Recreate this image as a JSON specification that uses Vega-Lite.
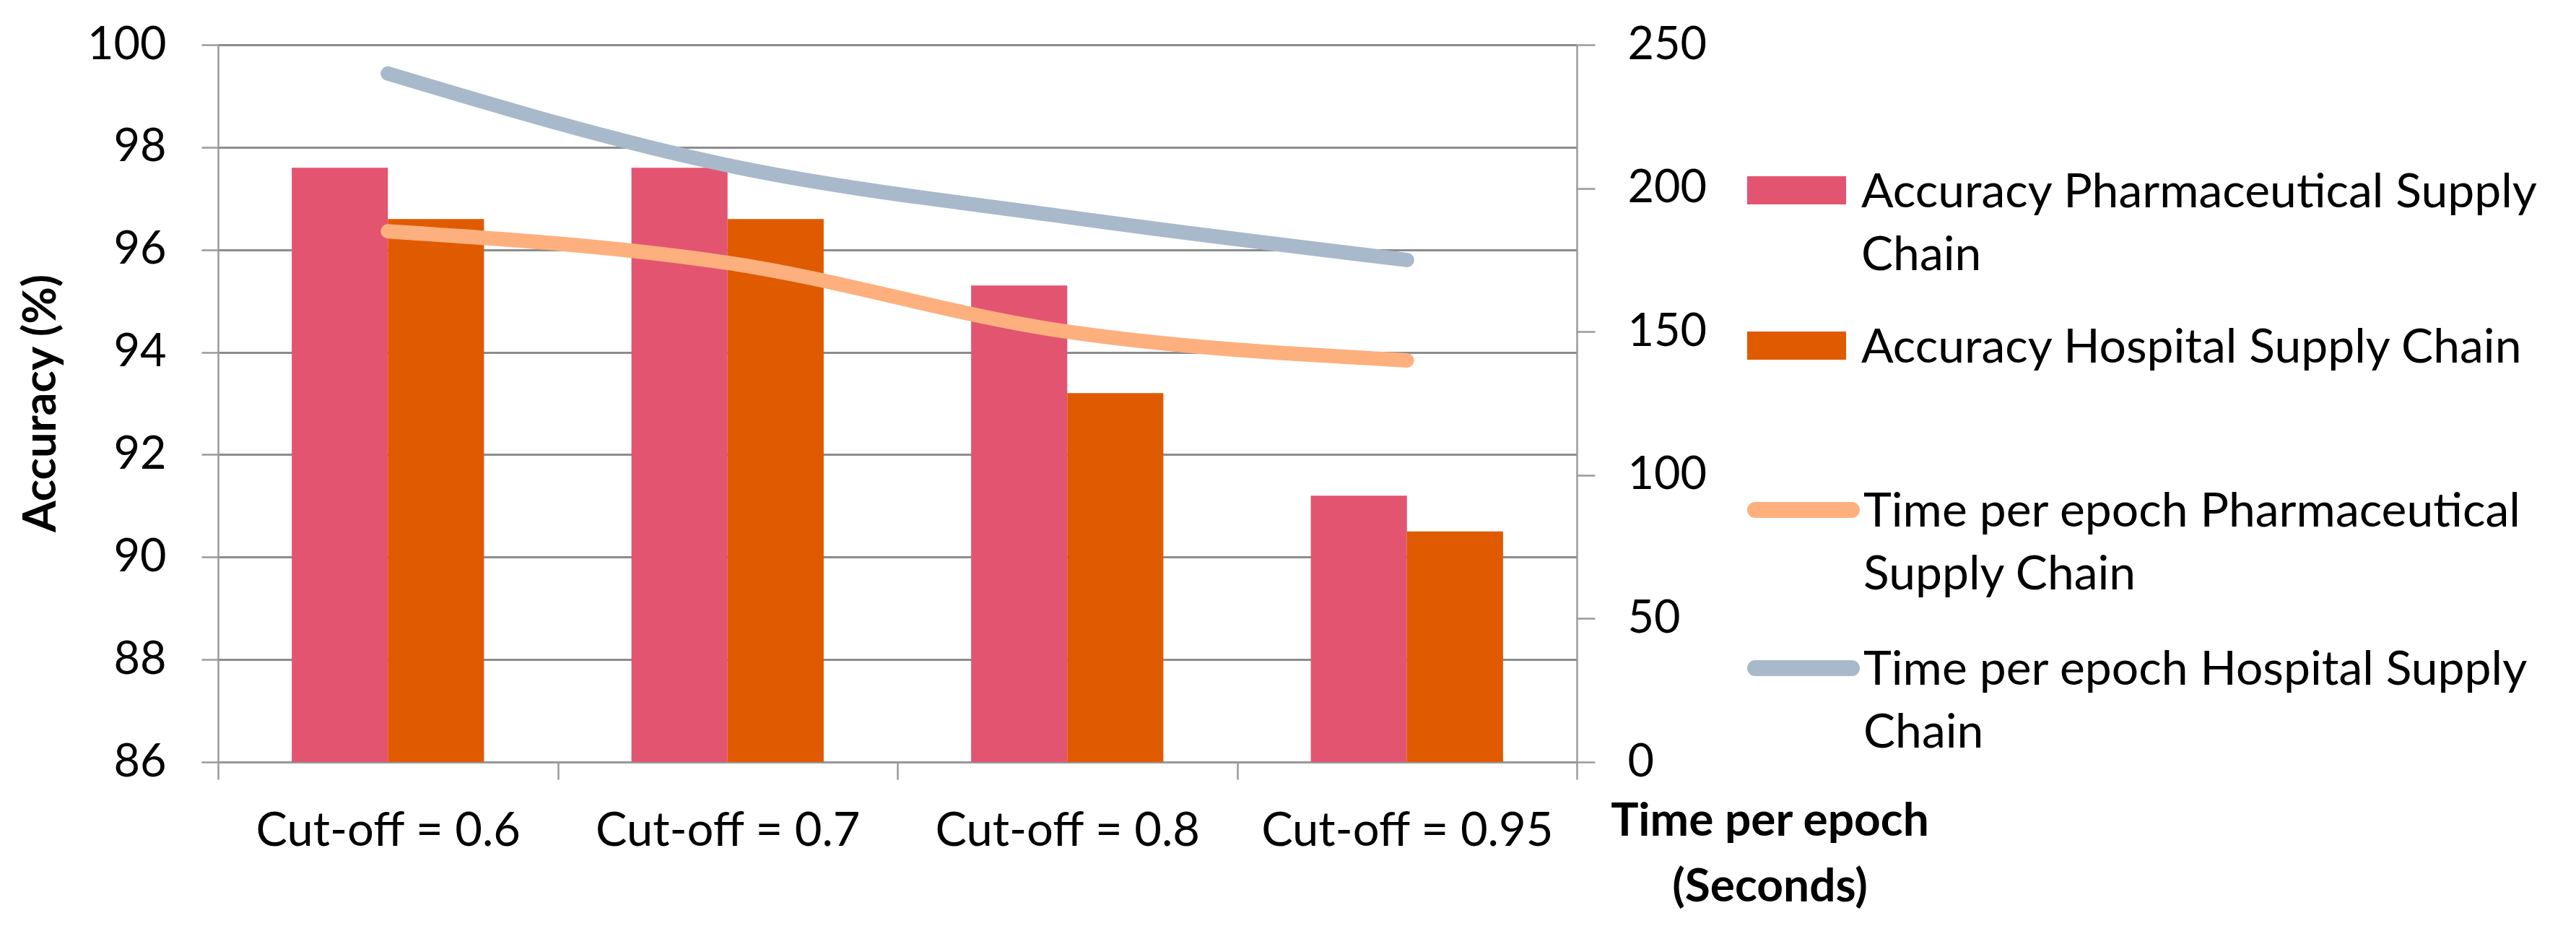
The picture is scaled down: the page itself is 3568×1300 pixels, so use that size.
{
  "$schema": "https://vega.github.io/schema/vega-lite/v6.json",
  "description": "Accuracy bars and time-per-epoch lines by cut-off.",
  "width": 1882,
  "height": 993,
  "autosize": {"type": "none"},
  "padding": {"left": 302, "top": 62, "right": 1384, "bottom": 245},
  "background": "white",
  "config": {
    "font": "Lato",
    "view": {"stroke": null},
    "axis": {"labelColor": "#000000", "titleColor": "#000000", "domainColor": "#9a9a9a", "domainWidth": 2.5, "tickColor": "#9a9a9a", "tickWidth": 2.5},
    "legend": {"padding": 0, "labelColor": "#000000"}
  },
  "datasets": {
    "accuracy": [
      {"cutoff": "Cut-off = 0.6", "series": "Accuracy Pharmaceutical Supply Chain", "accuracy": 97.6},
      {"cutoff": "Cut-off = 0.6", "series": "Accuracy Hospital Supply Chain", "accuracy": 96.6},
      {"cutoff": "Cut-off = 0.7", "series": "Accuracy Pharmaceutical Supply Chain", "accuracy": 97.6},
      {"cutoff": "Cut-off = 0.7", "series": "Accuracy Hospital Supply Chain", "accuracy": 96.6},
      {"cutoff": "Cut-off = 0.8", "series": "Accuracy Pharmaceutical Supply Chain", "accuracy": 95.3},
      {"cutoff": "Cut-off = 0.8", "series": "Accuracy Hospital Supply Chain", "accuracy": 93.2},
      {"cutoff": "Cut-off = 0.95", "series": "Accuracy Pharmaceutical Supply Chain", "accuracy": 91.2},
      {"cutoff": "Cut-off = 0.95", "series": "Accuracy Hospital Supply Chain", "accuracy": 90.5}
    ],
    "timing": [
      {"cutoff": "Cut-off = 0.6", "series": "Time per epoch Pharmaceutical Supply Chain", "seconds": 185},
      {"cutoff": "Cut-off = 0.7", "series": "Time per epoch Pharmaceutical Supply Chain", "seconds": 174},
      {"cutoff": "Cut-off = 0.8", "series": "Time per epoch Pharmaceutical Supply Chain", "seconds": 150},
      {"cutoff": "Cut-off = 0.95", "series": "Time per epoch Pharmaceutical Supply Chain", "seconds": 140},
      {"cutoff": "Cut-off = 0.6", "series": "Time per epoch Hospital Supply Chain", "seconds": 240},
      {"cutoff": "Cut-off = 0.7", "series": "Time per epoch Hospital Supply Chain", "seconds": 208},
      {"cutoff": "Cut-off = 0.8", "series": "Time per epoch Hospital Supply Chain", "seconds": 190},
      {"cutoff": "Cut-off = 0.95", "series": "Time per epoch Hospital Supply Chain", "seconds": 175}
    ]
  },
  "encoding": {
    "x": {
      "field": "cutoff",
      "type": "nominal",
      "scale": {"domain": ["Cut-off = 0.6", "Cut-off = 0.7", "Cut-off = 0.8", "Cut-off = 0.95"], "paddingInner": 0, "paddingOuter": 0},
      "axis": {"title": null, "labelAngle": 0, "tickBand": "extent", "tickSize": 24, "labelPadding": 40, "labelFontSize": 65, "labelBaseline": "top", "labelLimit": 0, "grid": false}
    }
  },
  "layer": [
    {
      "data": {"name": "accuracy"},
      "mark": {"type": "bar"},
      "encoding": {
        "xOffset": {
          "field": "series",
          "type": "nominal",
          "scale": {"domain": ["Accuracy Pharmaceutical Supply Chain", "Accuracy Hospital Supply Chain"], "paddingInner": 0, "paddingOuter": 0.767}
        },
        "y": {
          "field": "accuracy",
          "type": "quantitative",
          "scale": {"domain": [86, 100], "zero": false, "nice": false},
          "axis": {
            "orient": "left",
            "values": [86, 88, 90, 92, 94, 96, 98, 100],
            "grid": true,
            "gridColor": "#8c8c8c",
            "gridWidth": 3,
            "tickSize": 23,
            "labelPadding": 49,
            "labelFontSize": 63,
            "title": "Accuracy (%)",
            "titleFontSize": 63,
            "titleFontWeight": "bold",
            "titleX": -245,
            "titleY": 496,
            "titleBaseline": "middle",
            "titleAngle": 270
          }
        },
        "y2": {"datum": 86},
        "color": {
          "field": "series",
          "type": "nominal",
          "scale": {"domain": ["Accuracy Pharmaceutical Supply Chain", "Accuracy Hospital Supply Chain"], "range": ["#E35470", "#E05A00"]},
          "legend": {
            "orient": "none",
            "legendX": 2118,
            "legendY": 133,
            "title": null,
            "symbolType": "M-1,-0.285L1,-0.285L1,0.285L-1,0.285Z",
            "symbolSize": 18769,
            "symbolStrokeWidth": 0,
            "labelFontSize": 66,
            "labelOffset": 21,
            "labelLimit": 1300,
            "labelBaseline": "top",
            "rowPadding": 23,
            "labelExpr": "datum.label == 'Accuracy Pharmaceutical Supply Chain' ? ['Accuracy Pharmaceutical Supply', 'Chain'] : datum.label",
            "encode": {"labels": {"update": {"dy": {"value": -29}, "lineHeight": {"value": 87}}}}
          }
        }
      }
    },
    {
      "data": {"name": "timing"},
      "mark": {"type": "line", "strokeWidth": 20, "strokeCap": "round", "strokeJoin": "round", "interpolate": "monotone"},
      "encoding": {
        "y": {
          "field": "seconds",
          "type": "quantitative",
          "scale": {"domain": [0, 250], "nice": false},
          "axis": {
            "orient": "right",
            "values": [0, 50, 100, 150, 200, 250],
            "grid": false,
            "tickSize": 25,
            "labelPadding": 45,
            "labelFontSize": 63,
            "title": ["Time per epoch", "(Seconds)"],
            "titleAngle": 0,
            "titleX": 267,
            "titleY": 1043,
            "titleAlign": "center",
            "titleBaseline": "top",
            "titleLineHeight": 91,
            "titleFontSize": 64,
            "titleFontWeight": "bold"
          }
        },
        "stroke": {
          "field": "series",
          "type": "nominal",
          "scale": {"domain": ["Time per epoch Pharmaceutical Supply Chain", "Time per epoch Hospital Supply Chain"], "range": ["#FDB07E", "#A8B9CB"]},
          "legend": {
            "orient": "none",
            "legendX": 2118,
            "legendY": 566,
            "title": null,
            "symbolType": "stroke",
            "symbolSize": 17956,
            "symbolStrokeWidth": 22,
            "labelFontSize": 66,
            "labelOffset": 5,
            "labelLimit": 1300,
            "labelBaseline": "top",
            "rowPadding": 18,
            "labelExpr": "datum.label == 'Time per epoch Pharmaceutical Supply Chain' ? ['Time per epoch Pharmaceutical', 'Supply Chain'] : ['Time per epoch Hospital Supply', 'Chain']",
            "encode": {
              "symbols": {"update": {"strokeCap": {"value": "round"}}},
              "labels": {"update": {"dy": {"value": -29}, "lineHeight": {"value": 87}}}
            }
          }
        }
      }
    }
  ],
  "resolve": {"scale": {"y": "independent"}}
}
